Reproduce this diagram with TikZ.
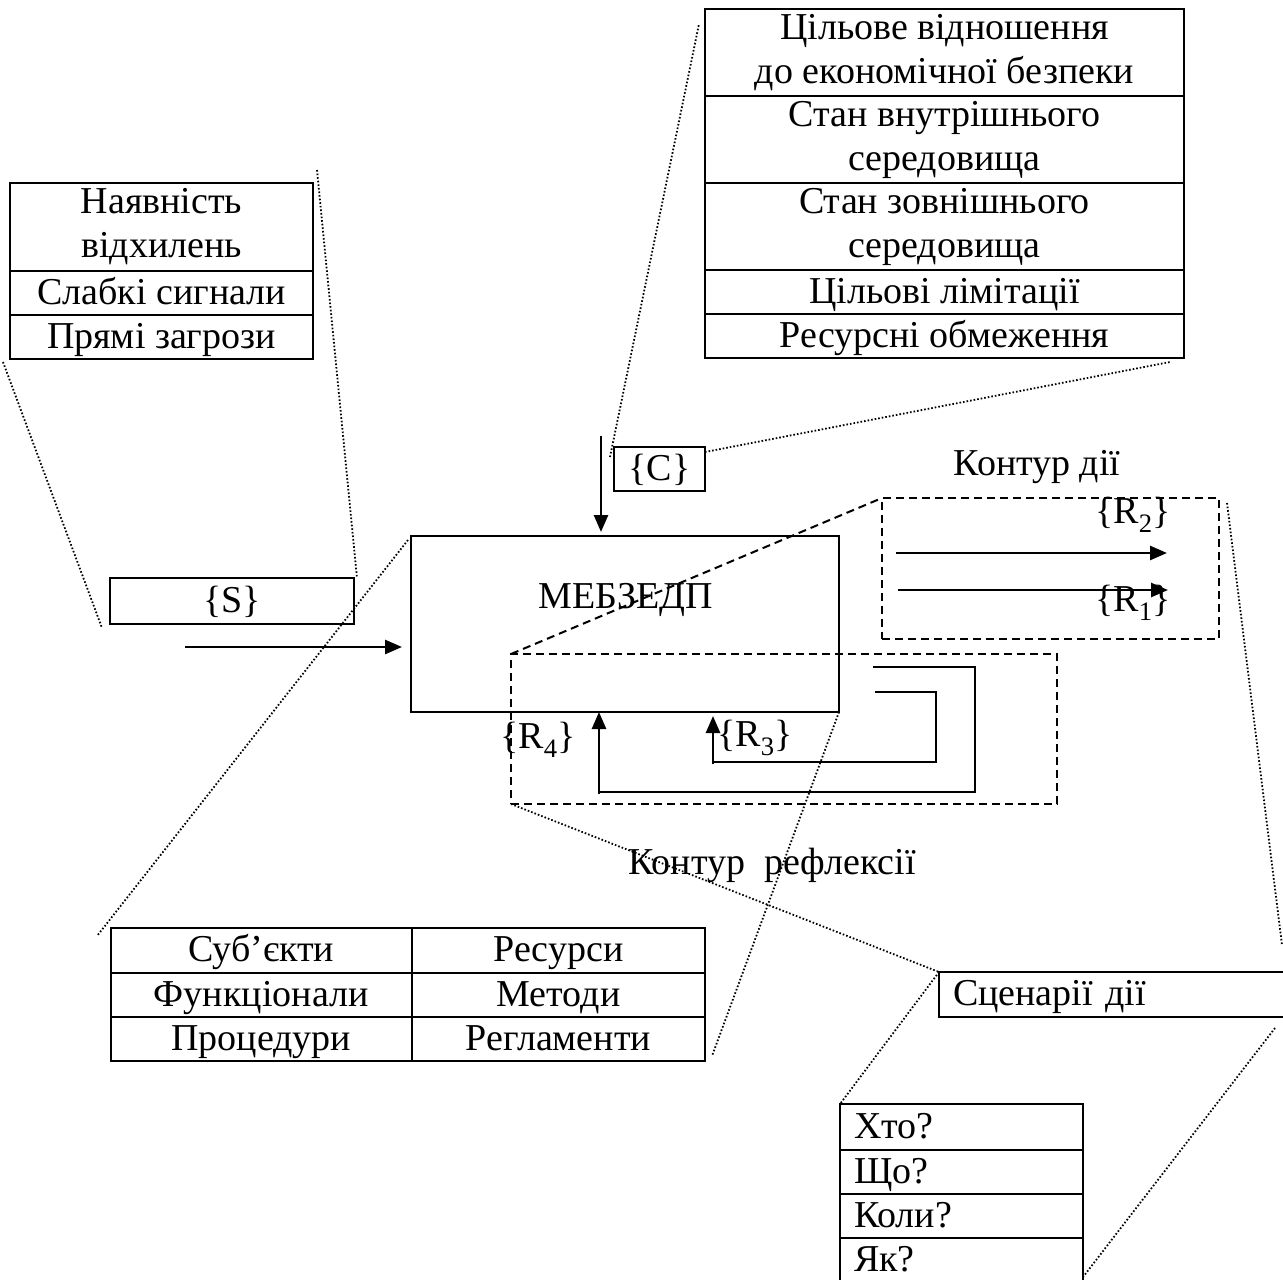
\documentclass[tikz,border=0pt]{standalone}
\usepackage{fontspec}
\setmainfont{Liberation Serif}
\usetikzlibrary{arrows.meta, positioning}
\tikzset{
  every picture/.style={font=\fontsize{38}{44}\selectfont, line width=2pt},
  cell/.style={draw, line width=2pt, inner sep=0pt, outer sep=0pt, align=center},
  oneline/.style={cell, text height=33pt, text depth=11pt},
  leftcell/.style={oneline, align=left, inner xsep=14pt, text width=#1},
  dashline/.style={dash pattern=on 8pt off 5pt, line width=2pt},
  zone/.style={draw, dashline, inner sep=0pt, outer sep=0pt},
  magline/.style={line width=1.8pt, dash pattern=on 1.6pt off 2pt},
  arrow/.style={-{Triangle[length=17pt, width=14pt]}, line width=2.6pt},
  fback/.style={line width=1.6pt},
}

\begin{document}
\begin{tikzpicture}[x=1pt, y=-1pt]
  \clip (0,0) rectangle (1283,1280);
  % signals and constraints
  \node[cell, minimum width=303pt, minimum height=88pt] (s1) at (161.5,227) {Наявність\\відхилень};
  \node[oneline, minimum width=303pt, minimum height=44pt, below=0pt of s1] (s2) {Слабкі сигнали};
  \node[oneline, minimum width=303pt, minimum height=44pt, below=0pt of s2] (s3) {Прямі загрози};
  \node[cell, minimum width=479pt, minimum height=87pt] (c1) at (944.5,52.5) {Цільове відношення\\до економічної безпеки};
  \node[cell, minimum width=479pt, minimum height=87pt, below=0pt of c1] (c2) {Стан внутрішнього\\середовища};
  \node[cell, minimum width=479pt, minimum height=87pt, below=0pt of c2] (c3) {Стан зовнішнього\\середовища};
  \node[oneline, minimum width=479pt, minimum height=44pt, below=0pt of c3] (c4) {Цільові лімітації};
  \node[oneline, minimum width=479pt, minimum height=44pt, below=0pt of c4] (c5) {Ресурсні обмеження};
  \node[oneline, minimum width=244pt, minimum height=46pt] (sset) at (232,601) {\{S\}};
  \node[oneline, minimum width=91pt, minimum height=44pt] (cset) at (659.5,469) {\{C\}};

  % model and contours
  \node[cell, line width=2.4pt, minimum width=428pt, minimum height=176pt] (meb) at (625,624) {};
  \node (mebname) at (626,600) {МЕБЗЕДП};
  \node[zone, minimum width=337pt, minimum height=141pt] (act) at (1050.5,568.5) {};
  \node[zone, minimum width=546pt, minimum height=150pt] (refl) at (784,729) {};
  \node (actname) at (1037,467) {Контур дії};
  \node (reflname) at (772,865) {Контур\ \ рефлексії};
  \draw[dashline] (refl.north west) -- (act.north west);

  % resources table
  \node[oneline, minimum width=301.5pt, minimum height=45pt] (b11) at (261.25,950.5) {Суб’єкти};
  \node[oneline, minimum width=293pt, minimum height=45pt, right=0pt of b11] (b12) {Ресурси};
  \node[oneline, minimum width=301.5pt, minimum height=44pt, below=0pt of b11] (b21) {Функціонали};
  \node[oneline, minimum width=293pt, minimum height=44pt, right=0pt of b21] (b22) {Методи};
  \node[oneline, minimum width=301.5pt, minimum height=44pt, below=0pt of b21] (b31) {Процедури};
  \node[oneline, minimum width=293pt, minimum height=44pt, right=0pt of b31] (b32) {Регламенти};

  % scenarios
  \node[leftcell=328pt, minimum height=45pt] (scen) at (1117,994.5) {Сценарії дії};
  \node[leftcell=215pt, minimum height=46pt] (w1) at (961.5,1127) {Хто?};
  \node[leftcell=215pt, minimum height=44pt, below=0pt of w1] (w2) {Що?};
  \node[leftcell=215pt, minimum height=44pt, below=0pt of w2] (w3) {Коли?};
  \node[leftcell=215pt, minimum height=44pt, below=0pt of w3] (w4) {Як?};

  % inputs
  \coordinate (sin) at (185,647);
  \coordinate (cin) at (601,436);
  \draw[arrow, shorten >=9pt] (sin) -- (sin -| meb.west);
  \draw[arrow, shorten >=4pt] (cin) -- (cin |- meb.north);

  % action outputs
  \coordinate (r2s) at (896,553); \coordinate (r2e) at (1167,553);
  \coordinate (r1s) at (898,590); \coordinate (r1e) at (1168,590);
  \draw[arrow] (r2s) -- (r2e);
  \draw[arrow] (r1s) -- (r1e);
  \node (r2) at (1133,515) {\{R\textsubscript{2}\}};
  \node (r1) at (1133,603) {\{R\textsubscript{1}\}};

  % reflection loops
  \coordinate (f4) at (873,667); \coordinate (f4end) at (599,794);
  \coordinate (f3) at (875,692); \coordinate (f3end) at (713,764);
  \draw[fback] (f4) -| (975,792) -- (f4end |- 0,792);
  \draw[fback] (f3) -| (936,762) -- (f3end |- 0,762);
  \draw[arrow] (f4end) -- (f4end |- meb.south);
  \draw[arrow, shorten >=4pt] (f3end) -- (f3end |- meb.south);
  \node (r4) at (538,740) {\{R\textsubscript{4}\}};
  \node (r3) at (755,738) {\{R\textsubscript{3}\}};

  % magnifier lines
  \coordinate (m1a) at (3,362);     \coordinate (m1b) at (102,628);
  \coordinate (m2a) at (317,170);   \coordinate (m2b) at (357,578);
  \coordinate (m3a) at (610,457);   \coordinate (m3b) at (699,24);
  \coordinate (m4b) at (1170,362);
  \coordinate (m5b) at (97,936);
  \coordinate (m6b) at (712,1056);
  \coordinate (m8a) at (1227,503);  \coordinate (m8b) at (1282,945);
  \coordinate (m10a) at (1275,1028); \coordinate (m10b) at (1083,1277);
  \draw[magline] (m1a) -- (m1b);
  \draw[magline] (m2a) -- (m2b);
  \draw[magline] (m3a) -- (m3b);
  \draw[magline] (cset.east) ++(0,-17) -- (m4b);
  \draw[magline] (meb.north west) ++(-3,4) -- (m5b);
  \draw[magline] (meb.south east) -- (m6b);
  \draw[magline] (refl.south west) -- (scen.north west);
  \draw[magline] (m8a) -- (m8b);
  \draw[magline] (scen.north west) -- (w1.north west);
  \draw[magline] (m10a) -- (m10b);
\end{tikzpicture}
\end{document}
